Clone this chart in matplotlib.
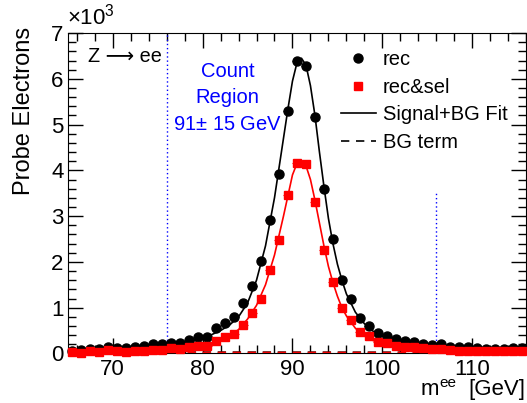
import numpy as np
import matplotlib
matplotlib.use("Agg")
import matplotlib.pyplot as plt
from matplotlib.lines import Line2D

plt.rcParams['font.family'] = ['Liberation Sans', 'DejaVu Sans']
plt.rcParams['mathtext.fontset'] = 'custom'
plt.rcParams['mathtext.rm'] = 'Liberation Sans'

# bin centres [GeV]
mass = np.arange(65.5, 116, 1.0)

# probe electron counts per bin
rec = [58, 73, 95, 88, 131, 110, 110, 131, 168, 204,
       204, 234, 234, 292, 350, 365, 547, 657, 803, 1095,
       1474, 2029, 2920, 3910, 5300, 6400, 6290, 5160, 3600, 2510,
       1610, 1190, 785, 610, 440, 370, 310, 280, 240, 210,
       180, 200, 150, 130, 130, 110, 100, 100, 100, 125, 115]
rec_sel = [40, 20, 55, 40, 75, 55, 40, 55, 60, 75,
           75, 110, 88, 146, 168, 160, 270, 365, 423, 613,
           890, 1190, 1825, 2480, 3460, 4160, 4130, 3310, 2270, 1550,
           990, 720, 465, 380, 245, 220, 170, 150, 130, 110,
           90, 100, 70, 60, 55, 55, 50, 55, 50, 55, 50]

# fitted curves
fit_x = [65, 70, 75, 78, 80, 82, 83, 84, 85, 86, 87, 88, 89, 89.5, 90, 90.5,
         91, 91.5, 92, 92.5, 93, 93.5, 94, 94.5, 95, 95.5, 96, 97, 98, 99,
         100, 102, 104, 106, 110, 116]
fit_rec = [70, 100, 160, 230, 320, 500, 620, 800, 1100, 1600, 2350, 3400, 4700,
           5350, 5950, 6350, 6450, 6300, 5850, 5200, 4400, 3650, 2950, 2400,
           1950, 1600, 1300, 900, 650, 480, 370, 250, 190, 150, 110, 90]
fit_sel = [40, 50, 80, 120, 170, 290, 390, 520, 750, 1050, 1500, 2150, 3000,
           3450, 3900, 4150, 4200, 4100, 3800, 3350, 2850, 2350, 1900, 1550,
           1250, 1000, 820, 550, 380, 280, 210, 150, 110, 85, 60, 45]
bg_x = [65, 116]
bg_rec = [30, 25]
bg_sel = [22, 18]

fig = plt.figure(figsize=(5.27, 4.03), dpi=100)
ax = fig.add_axes([0.1285, 0.123, 0.870, 0.795])

ax.plot(fit_x, fit_rec, color='black', lw=1.2)
ax.plot(fit_x, fit_sel, color='red', lw=1.2)
ax.plot(bg_x, bg_rec, color='black', lw=1.2, ls=(0, (5, 4)))
ax.plot(bg_x, bg_sel, color='red', lw=1.2, ls=(0, (5, 4)))

ax.errorbar(mass, rec, xerr=0.5, fmt='o', color='black', ms=6.5, lw=0.8,
            capsize=0, clip_on=False, zorder=4)
ax.errorbar(mass, rec_sel, xerr=0.5, fmt='s', color='red', ms=6, lw=0.8,
            capsize=0, clip_on=False, zorder=5)

# count region 91 +- 15 GeV
ax.plot([76, 76], [0, 7000], color='blue', ls=(0, (1, 2)), lw=1.0)
ax.plot([106, 106], [0, 3500], color='blue', ls=(0, (1, 2)), lw=1.0)

ax.set_xlim(65, 116)
ax.set_ylim(0, 7000)
ax.set_xticks([70, 80, 90, 100, 110])
ax.set_xticks(np.arange(66, 117, 2), minor=True)
ax.set_yticks(np.arange(0, 7001, 1000))
ax.set_yticklabels(['0', '1', '2', '3', '4', '5', '6', '7'])
ax.set_yticks(np.arange(0, 7001, 200), minor=True)
ax.tick_params(which='both', direction='in', top=True, right=True,
               labelsize=16, width=1)
ax.tick_params(which='major', length=11)
ax.tick_params(which='minor', length=6)
ax.tick_params(axis='x', pad=4)
ax.tick_params(axis='y', pad=3)

fig.text(67 / 527, 1 - 25 / 403, r'$\times$10$^{3}$', fontsize=16,
         ha='left', va='baseline')
fig.text(24 / 527, 1 - 27 / 403, 'Probe Electrons', rotation=90, fontsize=17,
         ha='center', va='top')
# x title: m^ee [GeV]
fig.text(525 / 527, 1 - 395 / 403, '[GeV]', fontsize=16,
         ha='right', va='baseline')
fig.text(456 / 527, 1 - 387 / 403, 'ee', fontsize=11,
         ha='right', va='baseline')
fig.text(439 / 527, 1 - 395 / 403, 'm', fontsize=16,
         ha='right', va='baseline')

ax.text(0.045, 0.91, 'Z ⟶ ee', transform=ax.transAxes, fontsize=14.3,
        ha='left', va='baseline')
ax.text(82.8, 6030, 'Count', color='blue', fontsize=14.5, ha='center',
        va='baseline')
ax.text(82.8, 5480, 'Region', color='blue', fontsize=14.5, ha='center',
        va='baseline')
ax.text(82.8, 4880, r'91$\pm$ 15 GeV', color='blue', fontsize=14.5,
        ha='center', va='baseline')

handles = [Line2D([], [], marker='o', ls='none', color='black', ms=6.5),
           Line2D([], [], marker='s', ls='none', color='red', ms=6),
           Line2D([], [], color='black', lw=1.2),
           Line2D([], [], color='black', lw=1.2, ls=(0, (5, 4)))]
labels = ['rec', 'rec&sel', 'Signal+BG Fit', 'BG term']
ax.legend(handles, labels, loc='upper left', bbox_to_anchor=(0.566, 0.99),
          frameon=False, fontsize=14.5, handlelength=1.7, handletextpad=0.35,
          labelspacing=0.42, borderpad=0.2)

fig.savefig('out.png', dpi=100)
